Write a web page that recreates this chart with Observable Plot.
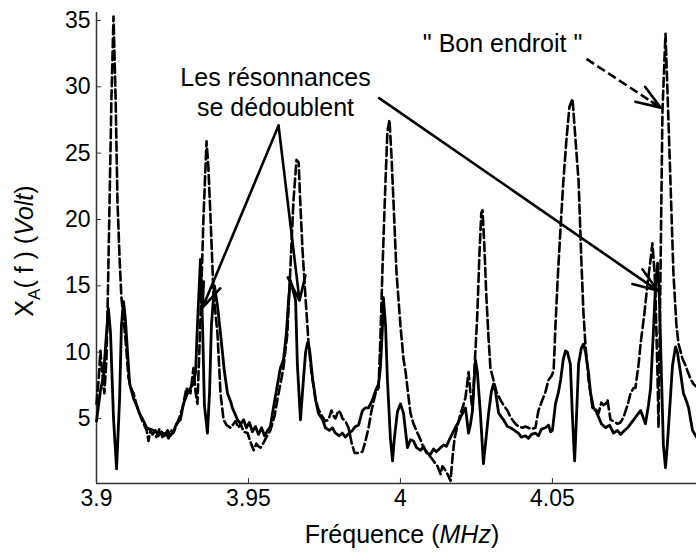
<!DOCTYPE html>
<html><head><meta charset="utf-8">
<script src="https://cdn.jsdelivr.net/npm/d3@7"></script>
<script src="https://cdn.jsdelivr.net/npm/@observablehq/plot@0.6"></script>
<style>body{margin:0;background:#fff}svg{font-family:"Liberation Sans",Arial,sans-serif}</style>
</head><body><div id="chart"></div>
<script>
// Solid curve
const solidX = [3.9000,3.9013,3.9023,3.9030,3.9039,3.9046,3.9056,3.9066,3.9076,3.9082,3.9089,3.9095,3.9109,3.9122,3.9132,3.9141,3.9155,3.9165,3.9174,3.9184,3.9194,3.9204,3.9214,3.9224,3.9234,3.9243,3.9253,3.9263,3.9276,3.9286,3.9299,3.9309,3.9319,3.9326,3.9332,3.9342,3.9349,3.9355,3.9365,3.9372,3.9378,3.9388,3.9398,3.9408,3.9421,3.9431,3.9441,3.9447,3.9464,3.9474,3.9484,3.9493,3.9503,3.9513,3.9523,3.9533,3.9543,3.9553,3.9563,3.9572,3.9582,3.9595,3.9605,3.9615,3.9625,3.9632,3.9638,3.9645,3.9655,3.9661,3.9671,3.9681,3.9688,3.9694,3.9701,3.9711,3.9721,3.9730,3.9744,3.9753,3.9766,3.9776,3.9786,3.9799,3.9809,3.9819,3.9832,3.9842,3.9852,3.9862,3.9875,3.9885,3.9895,3.9908,3.9918,3.9928,3.9934,3.9941,3.9944,3.9951,3.9957,3.9967,3.9974,3.9980,3.9990,4.0000,4.0010,4.0017,4.0023,4.0033,4.0043,4.0053,4.0066,4.0076,4.0086,4.0099,4.0109,4.0118,4.0132,4.0142,4.0151,4.0165,4.0178,4.0188,4.0198,4.0207,4.0214,4.0224,4.0230,4.0237,4.0243,4.0247,4.0253,4.0263,4.0273,4.0283,4.0290,4.0299,4.0306,4.0313,4.0323,4.0339,4.0352,4.0362,4.0375,4.0388,4.0398,4.0411,4.0421,4.0431,4.0444,4.0454,4.0464,4.0477,4.0487,4.0494,4.0500,4.0510,4.0520,4.0527,4.0536,4.0543,4.0549,4.0559,4.0566,4.0573,4.0579,4.0586,4.0595,4.0602,4.0609,4.0619,4.0625,4.0635,4.0645,4.0652,4.0661,4.0675,4.0688,4.0701,4.0714,4.0724,4.0737,4.0747,4.0757,4.0767,4.0780,4.0790,4.0800,4.0806,4.0816,4.0823,4.0833,4.0839,4.0846,4.0852,4.0859,4.0865,4.0872,4.0878,4.0888,4.0895,4.0905,4.0911,4.0921,4.0931,4.0941,4.0948,4.0954,4.0961,4.0974];
const solidY = [4.8,7.1,8.2,10.5,13.3,11.5,5.0,1.2,6.5,12.0,13.8,12.5,7.6,6.5,6.0,5.4,4.8,4.3,4.2,3.8,4.1,3.7,4.0,3.7,4.1,3.7,4.0,4.6,4.9,6.1,6.9,7.3,7.6,8.5,12.0,17.0,12.0,6.0,3.9,7.0,12.0,15.0,13.5,11.4,8.5,6.9,6.3,5.8,4.9,4.6,4.9,4.3,4.7,4.0,4.4,3.8,4.3,3.7,4.1,4.4,5.8,7.5,8.8,9.4,11.5,14.0,15.4,14.8,13.9,9.0,4.9,8.0,10.0,10.7,10.2,8.0,6.4,5.4,4.9,4.3,4.1,4.3,3.9,3.7,3.9,3.6,3.9,4.1,4.4,4.5,5.6,5.8,5.8,6.4,7.1,7.6,8.8,12.0,14.1,12.0,8.0,3.5,1.8,3.5,5.5,6.1,5.4,4.0,2.8,3.4,3.3,2.8,2.6,2.9,2.4,2.3,2.7,2.5,2.8,3.0,2.9,3.6,4.2,4.6,5.1,5.5,5.8,3.9,4.5,5.6,8.0,9.4,8.5,5.4,1.6,3.8,5.4,7.0,7.6,7.0,5.4,4.9,4.4,4.3,4.1,3.9,3.6,3.7,3.5,3.8,3.9,3.7,4.2,4.3,4.5,4.0,4.1,6.1,7.0,7.9,9.5,10.1,10.0,9.1,5.0,1.8,5.0,9.1,10.3,10.6,10.0,8.4,7.0,5.8,5.5,5.1,4.6,4.3,4.5,3.9,4.1,3.8,4.1,4.3,4.6,4.9,5.3,5.6,5.0,4.6,6.0,7.3,11.9,15.0,16.7,14.0,8.0,3.0,1.3,3.0,6.5,9.0,10.4,10.0,8.5,6.9,6.3,5.8,5.0,4.1,3.6];
// Dashed curve
const dashedX = [3.9000,3.9003,3.9007,3.9010,3.9013,3.9016,3.9020,3.9026,3.9033,3.9038,3.9043,3.9049,3.9056,3.9063,3.9069,3.9076,3.9082,3.9089,3.9099,3.9105,3.9115,3.9122,3.9132,3.9141,3.9151,3.9165,3.9171,3.9178,3.9188,3.9197,3.9207,3.9217,3.9227,3.9237,3.9247,3.9253,3.9263,3.9273,3.9283,3.9296,3.9303,3.9309,3.9319,3.9326,3.9332,3.9342,3.9352,3.9362,3.9368,3.9375,3.9385,3.9398,3.9408,3.9418,3.9428,3.9441,3.9451,3.9457,3.9467,3.9474,3.9484,3.9497,3.9507,3.9517,3.9526,3.9533,3.9540,3.9550,3.9559,3.9572,3.9586,3.9595,3.9605,3.9615,3.9628,3.9638,3.9648,3.9658,3.9665,3.9671,3.9678,3.9688,3.9697,3.9707,3.9721,3.9730,3.9744,3.9753,3.9763,3.9773,3.9780,3.9786,3.9796,3.9803,3.9809,3.9819,3.9829,3.9839,3.9849,3.9862,3.9875,3.9885,3.9895,3.9905,3.9918,3.9928,3.9934,3.9941,3.9951,3.9957,3.9964,3.9970,3.9977,3.9987,4.0000,4.0010,4.0017,4.0023,4.0033,4.0043,4.0056,4.0066,4.0076,4.0089,4.0099,4.0109,4.0122,4.0132,4.0138,4.0145,4.0155,4.0165,4.0171,4.0178,4.0188,4.0198,4.0207,4.0214,4.0224,4.0230,4.0237,4.0243,4.0253,4.0260,4.0266,4.0270,4.0276,4.0283,4.0290,4.0296,4.0306,4.0316,4.0329,4.0339,4.0352,4.0362,4.0378,4.0388,4.0402,4.0411,4.0421,4.0431,4.0444,4.0454,4.0467,4.0477,4.0487,4.0497,4.0504,4.0510,4.0517,4.0527,4.0536,4.0546,4.0556,4.0566,4.0576,4.0586,4.0595,4.0602,4.0609,4.0619,4.0632,4.0642,4.0652,4.0661,4.0668,4.0675,4.0681,4.0691,4.0701,4.0714,4.0724,4.0734,4.0747,4.0757,4.0767,4.0773,4.0783,4.0790,4.0803,4.0813,4.0823,4.0829,4.0836,4.0839,4.0846,4.0849,4.0855,4.0862,4.0872,4.0878,4.0888,4.0898,4.0908,4.0915,4.0928,4.0938,4.0944,4.0954,4.0964,4.0974];
const dashedY = [6.1,7.0,7.9,9.0,10.1,9.2,8.2,6.9,9.6,15.0,21.4,29.0,35.3,29.0,21.4,17.0,14.1,12.6,10.0,8.1,7.2,6.9,6.0,5.4,4.8,4.1,3.3,4.2,4.1,3.6,4.2,3.6,4.0,3.5,4.1,3.9,4.5,5.1,5.8,7.3,7.0,6.9,8.8,7.0,6.1,12.4,20.2,25.9,24.0,20.2,14.4,11.4,6.9,4.9,4.5,4.3,4.6,4.8,4.3,4.6,4.0,3.9,3.2,2.6,3.1,2.9,2.8,3.2,3.6,4.1,5.2,6.4,7.6,8.8,11.4,16.4,21.4,24.5,24.3,21.0,17.6,14.0,10.9,8.5,6.4,5.7,5.1,4.8,4.9,5.6,5.2,5.0,5.6,5.4,5.0,4.8,4.3,3.2,2.4,2.4,2.5,3.3,4.3,5.6,6.9,7.3,11.0,16.4,23.0,26.6,27.5,25.0,21.4,16.0,12.0,9.5,8.5,7.3,5.4,4.6,3.9,3.4,2.8,2.4,2.1,1.8,1.4,0.8,1.4,1.2,0.8,0.3,2.0,3.5,4.5,5.4,6.0,6.6,8.5,7.0,5.6,8.5,12.9,17.5,20.5,20.7,18.0,14.0,11.0,8.8,7.9,7.0,6.4,6.0,5.6,5.1,4.6,4.4,4.3,4.4,4.3,4.2,4.3,5.6,6.4,7.0,7.9,8.2,8.6,12.0,15.4,19.5,22.9,26.0,28.5,29.1,26.0,22.9,17.0,13.0,10.4,7.9,5.8,5.7,5.4,6.2,6.0,6.1,6.4,4.9,4.8,4.6,4.7,5.1,6.0,6.9,7.3,7.3,9.0,10.6,13.0,15.2,17.0,18.2,16.0,14.4,8.0,4.3,15.0,28.2,34.0,30.0,23.1,16.0,12.0,10.6,9.5,9.0,8.6,8.0,7.6,7.4];

const xTicks = [3.9, 3.95, 4, 4.05];
const xTickLabels = ["3.9", "3.95", "4", "4.05"];
const yTicks = [5, 10, 15, 20, 25, 30, 35];

// Annotations (data coordinates)
const noteText = ["Les résonnances", "se dédoublent", "\" Bon endroit \""];
const noteX = [3.9589, 3.9589, 4.0336];
const noteY = [30.69, 28.43, 33.26];
const arrowX1 = [3.9599, 3.9599, 3.9930, 4.0612];
const arrowY1 = [27.08, 27.08, 29.15, 32.1];
const arrowX2 = [3.9349, 3.9668, 4.0846, 4.0856];
const arrowY2 = [13.36, 13.89, 14.64, 28.43];
const arrowKind = ["solid", "solid", "solid", "dashed"];

const solid = solidX.map((x, i) => ({x, y: solidY[i]}));
const dashed = dashedX.map((x, i) => ({x, y: dashedY[i]}));
const notes = noteText.map((t, i) => ({t, x: noteX[i], y: noteY[i]}));
const arrows = arrowX1.map((x1, i) => ({x1, y1: arrowY1[i], x2: arrowX2[i], y2: arrowY2[i], k: arrowKind[i]}));
const solidArrows = arrows.filter(d => d.k === "solid");
const dashedArrows = arrows.filter(d => d.k === "dashed");

const svg = Plot.plot({
  width: 696, height: 552,
  marginLeft: 96, marginRight: 0, marginTop: 12, marginBottom: 69,
  x: {domain: [3.9, 4.0974]},
  y: {domain: [0.1, 35.6]},
  style: {fontFamily: "'Liberation Sans', Arial, sans-serif", fontSize: "23px", background: "white", color: "black", overflow: "visible"},
  marks: [
    Plot.axisX(xTicks, {tickSize: 0, tickPadding: 6, tickFormat: d => xTickLabels[xTicks.indexOf(d)], label: null, fontSize: 23}),
    Plot.axisX(xTicks, {tickSize: 5, dy: -5, tickFormat: () => "", label: null, stroke: "#333"}),
    Plot.axisY(yTicks, {tickSize: 0, tickPadding: 6, label: null, fontSize: 23}),
    Plot.axisY(yTicks, {tickSize: 5, dx: 5, tickFormat: () => "", label: null, stroke: "#333"}),
    Plot.ruleX([3.9], {stroke: "#333", strokeWidth: 1.5}),
    Plot.ruleY([0.1], {stroke: "#333", strokeWidth: 1.5}),
    Plot.line(dashed, {x: "x", y: "y", stroke: "black", strokeWidth: 2.6, strokeDasharray: "9,4", strokeLinejoin: "round"}),
    Plot.line(solid, {x: "x", y: "y", stroke: "black", strokeWidth: 2.8, strokeLinejoin: "round"}),
    Plot.arrow(solidArrows, {x1: "x1", y1: "y1", x2: "x2", y2: "y2", stroke: "black", strokeWidth: 2.6, headLength: 15, headAngle: 40, inset: 0}),
    Plot.link(dashedArrows, {x1: "x1", y1: "y1", x2: "x2", y2: "y2", stroke: "black", strokeWidth: 2.6, strokeDasharray: "9,4"}),
    Plot.arrow(dashedArrows, {x1: "x1", y1: "y1", x2: "x2", y2: "y2", stroke: "black", strokeWidth: 2.6, headLength: 15, headAngle: 40, insetStart: 78, insetEnd: 0}),
    Plot.text(notes, {x: "x", y: "y", text: "t", fontSize: 25, textAnchor: "middle", lineAnchor: "middle", fill: "black"})
  ]
});

const s = d3.select(svg);
const ylab = s.append("text").attr("transform", "translate(33,251) rotate(-90)")
  .attr("text-anchor", "middle").attr("font-size", 25).attr("fill", "black").style("white-space", "pre");
ylab.append("tspan").text("X");
ylab.append("tspan").attr("font-size", 17).attr("dy", 7).text("A");
ylab.append("tspan").attr("dy", -7).text("( f ) (");
ylab.append("tspan").attr("font-style", "italic").text("Volt");
ylab.append("tspan").text(")");

const xlab = s.append("text").attr("x", 402).attr("y", 543)
  .attr("text-anchor", "middle").attr("font-size", 25).attr("fill", "black").style("white-space", "pre");
xlab.append("tspan").text("Fréquence (");
xlab.append("tspan").attr("font-style", "italic").text("MHz");
xlab.append("tspan").text(")");

document.getElementById("chart").appendChild(svg);
</script>
</body></html>
